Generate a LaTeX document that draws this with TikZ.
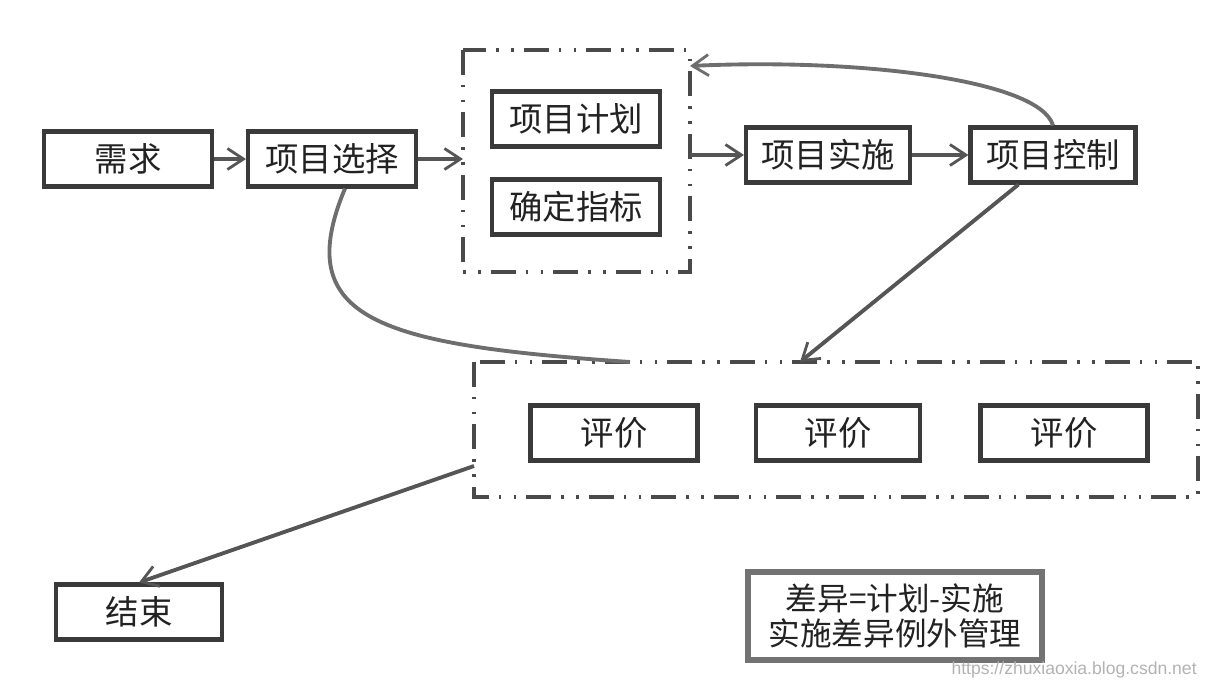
\documentclass[tikz,border=0pt]{standalone}
\usepackage{fontspec}
\setmainfont{Noto Sans CJK SC}
\newfontfamily\wmfont{Liberation Sans}
\usetikzlibrary{arrows.meta}
\definecolor{boxline}{HTML}{3A3A3A}
\definecolor{txt}{HTML}{222222}
\definecolor{arr}{HTML}{555555}
\definecolor{dashc}{HTML}{4A4A4A}
\begin{document}
\begin{tikzpicture}[x=0.02cm,y=-0.02cm,
  box/.style={draw=boxline,line width=2.3pt,fill=white,inner sep=0pt,
    minimum width=#1*0.02cm,minimum height=1.1cm,text=txt,font=\fontsize{19}{22}\selectfont},
  box/.default=166,
  flow/.style={draw=arr,line width=2.2pt,-{Straight Barb[length=3.2mm,width=4.2mm,line width=1.6pt]}},
  plainline/.style={draw=arr!85,line width=2.2pt},
  group/.style={draw=dashc,line width=2.2pt,
    dash pattern=on 0.5cm off 0.2cm on 0.05cm off 0.25cm on 0.05cm off 0.2cm},
  notebox/.style={draw=black!55,line width=3pt,fill=white,inner sep=0pt,
    minimum width=5.88cm,minimum height=1.76cm,align=center,text=txt,
    font=\fontsize{18}{22}\selectfont}
]
\useasboundingbox (0,0) rectangle (1208,690);
% groups
\draw[group] (463,50) rectangle (690,272);
\draw[group] (474,362) rectangle (1198,497);
\coordinate (gtopE) at (690,66);
\coordinate (gtopW) at (463,159);
\coordinate (gtopEin) at (690,155);
\coordinate (gbotN1) at (800,362);
\coordinate (gbotN2) at (630,362);
\coordinate (gbotW) at (474,466);
% nodes
\node[box=168] (xq) at (128,159) {需求};
\node[box=168] (xz) at (332,159) {项目选择};
\node[box=168] (jh) at (576,119) {项目计划};
\node[box=168] (zb) at (576,207) {确定指标};
\node[box=164] (ss) at (828,155) {项目实施};
\node[box=165] (kz) at (1053,155) {项目控制};
\node[box=167] (pj1) at (614,433) {评价};
\node[box=164] (pj2) at (838,433) {评价};
\node[box=167] (pj3) at (1064,433) {评价};
\node[box=166] (js) at (139,612) {结束};
\node[notebox] (note) at (895,616) {差异=计划-实施\\[-2pt]实施差异例外管理};
\node[text=black!30,font=\wmfont\fontsize{10}{12}\selectfont,anchor=east,inner sep=0pt] (wm) at (1197,670) {https://zhuxiaoxia.blog.csdn.net};
% connectors
\draw[flow] (xq) -- (xz);
\draw[flow] (xz) -- (gtopW);
\draw[flow] (gtopEin) -- (ss);
\draw[flow] (ss) -- (kz);
\draw[flow,draw=arr!85] (kz.north) .. controls (1040,80) and (860,58) .. (gtopE);
\draw[flow] (kz.south west) ++(50,0) coordinate (kzs) (kzs) -- (gbotN1);
\draw[plainline] ([xshift=0.26cm]xz.south) .. controls (290,320) and (380,345) .. (gbotN2);
\draw[flow] (gbotW) -- (js.north);
\end{tikzpicture}
\end{document}
